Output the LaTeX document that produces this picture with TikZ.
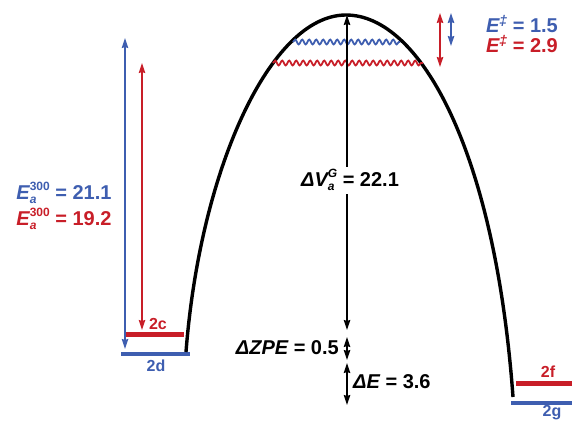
\documentclass[tikz,border=0pt]{standalone}
\usepackage{fontspec}
\setmainfont{Liberation Sans}
\usepackage{tikz}
\usetikzlibrary{arrows.meta,positioning,decorations.pathmorphing}
\definecolor{eblue}{RGB}{62,94,176}
\definecolor{ered}{RGB}{200,30,40}
\newcommand{\subsup}[2]{\rlap{\raisebox{-4pt}{\fontsize{12}{12}\selectfont #1}}\raisebox{8.5pt}{\fontsize{12}{12}\selectfont #2}}
\newcommand{\tsdag}{\raisebox{6.5pt}{\fontsize{14}{14}\selectfont\char"2021}}

\begin{document}
\begin{tikzpicture}[
  x=1pt, y=-1pt,
  lbl/.style={font=\fontsize{20}{23}\selectfont\bfseries, inner sep=1pt},
  sm/.style={font=\fontsize{16}{18}\selectfont\bfseries, inner sep=0pt},
  bar/.style={inner sep=0pt, minimum height=#1},
  arr/.style={{Stealth[length=10pt,width=6.5pt,inset=1pt]}-{Stealth[length=10pt,width=6.5pt,inset=1pt]}, line width=1.2pt},
  wave/.style={decorate, decoration={snake, segment length=7pt, amplitude=2.4pt}, line width=1.8pt}
]
\useasboundingbox (0,0) rectangle (572,420);

% energy levels
\node[bar=5pt, fill=ered, minimum width=59pt] (c2) at (154.5,334) {};
\node[bar=4pt, fill=eblue, minimum width=69pt] (d2) at (155.5,354) {};
\node[bar=5pt, fill=ered, minimum width=56pt] (f2) at (544,383) {};
\node[bar=4pt, fill=eblue, minimum width=61pt] (g2) at (541.5,403) {};
\node[sm, ered] (lc) at (158,324) {2c};
\node[sm, eblue] (ld) at (156,366) {2d};
\node[sm, ered] (lf) at (548,372) {2f};
\node[sm, eblue] (lg) at (552,413) {2g};

% barrier
\draw[line width=3.4pt] (186,352) .. controls (200,170) and (270,15) .. (346,15)
  .. controls (420,15) and (495,150) .. (513,397);

% zero point levels
\coordinate (bw1) at (293,42); \coordinate (bw2) at (400,42);
\coordinate (rw1) at (273,63); \coordinate (rw2) at (423,63);
\draw[wave, eblue] (bw1) -- (bw2);
\draw[wave, ered] (rw1) -- (rw2);

% central arrows
\coordinate (ts) at (347,15);
\coordinate (vb) at (347,330);
\coordinate (zt) at (347,337);
\coordinate (zb) at (347,360);
\coordinate (et) at (347,363);
\coordinate (eb) at (347,405);
\draw[arr] (ts) -- node[lbl, fill=white, inner ysep=3pt, pos=0.524, xshift=3pt] (lv) {\itshape\char"0394 V\subsup{a}{G}\upshape{} = 22.1} (vb);
\draw[arr] (zt) -- (zb);
\draw[arr] (et) -- (eb);
\node[lbl, anchor=east] (lz) at (340,348) {\itshape\char"0394 ZPE\upshape{} = 0.5};
\node[lbl, anchor=west] (le) at (352,382) {\itshape\char"0394 E\upshape{} = 3.6};

% activation energies
\coordinate (bt) at (125,38); \coordinate (bb) at (125,349);
\coordinate (rt) at (142,63); \coordinate (rb) at (142,330);
\draw[arr, eblue] (bt) -- (bb);
\draw[arr, ered] (rt) -- (rb);
\node[lbl, eblue] (eab) at (64,193) {\itshape E\subsup{a}{\upshape 300}\upshape{} = 21.1};
\node[lbl, ered] (ear) at (64,219) {\itshape E\subsup{a}{\upshape 300}\upshape{} = 19.2};

% tunnelling energies
\coordinate (rt2) at (440,13); \coordinate (rb2) at (440,67);
\coordinate (bt2) at (451,13); \coordinate (bb2) at (451,46);
\draw[arr, ered] (rt2) -- (rb2);
\draw[arr, eblue] (bt2) -- (bb2);
\node[lbl, eblue] (edb) at (522,24) {\itshape E\tsdag\upshape{} = 1.5};
\node[lbl, ered] (edr) at (522,44) {\itshape E\tsdag\upshape{} = 2.9};
\end{tikzpicture}
\end{document}
